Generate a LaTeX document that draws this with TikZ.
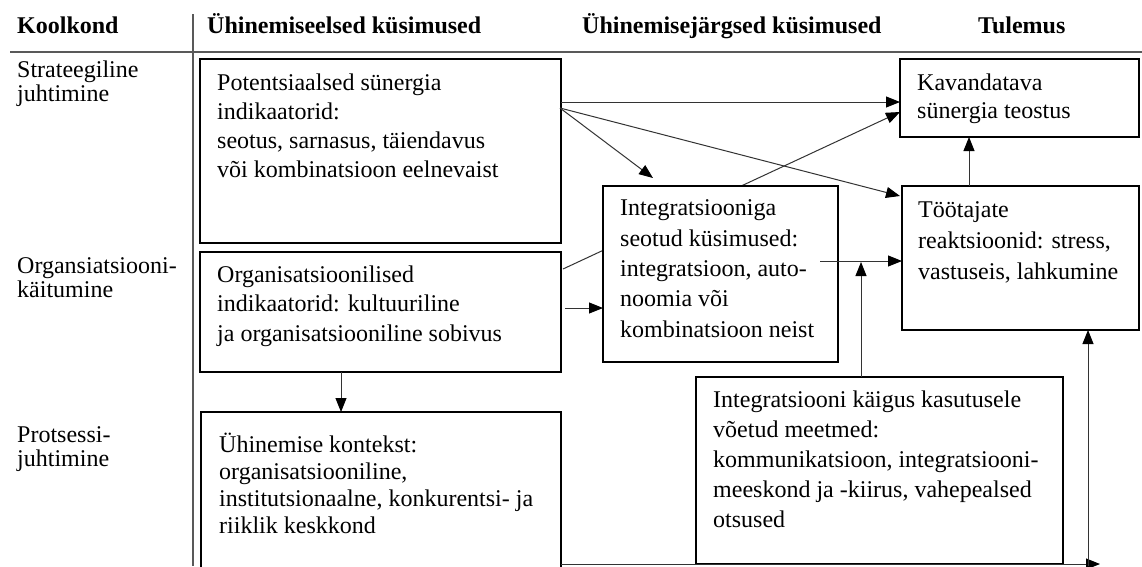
\documentclass[tikz,border=0pt]{standalone}
\usepackage{fontspec}
\setmainfont{Liberation Serif}
\usetikzlibrary{arrows.meta,calc}
\pgfdeclarelayer{bg}
\pgfsetlayers{bg,main}
\begin{document}
\begin{tikzpicture}[x=1pt,y=-1pt,
  box/.style={draw=black,line width=2pt,fill=white,anchor=north west,inner sep=0pt,outer sep=0pt},
  txt/.style={anchor=base west,inner sep=0pt,align=left,font=\fontsize{24}{#1}\selectfont},
  txt/.default=29,
  hdr/.style={anchor=base west,inner sep=0pt,font=\fontsize{24}{29}\selectfont\bfseries},
  lbl/.style={anchor=base west,inner sep=0pt,align=left,font=\fontsize{24}{24}\selectfont},
  conn/.style={draw=black!80,line width=1pt},
  arr/.style={conn,-{Triangle[length=14pt,width=11pt,fill=black,color=black]}},
  rule/.style={draw=black!65,line width=1.2pt}]
\useasboundingbox (0,0) rectangle (1142,566);
\begin{pgfonlayer}{bg}
\fill[white] (0,0) rectangle (1142,566);
\end{pgfonlayer}

% table rules
\draw[rule] (10,52) -- (1142,52);
\draw[rule] (193,14) -- (193,566);

% headers
\node[hdr] (h1) at (17,33) {Koolkond};
\node[hdr] (h2) at (207,33) {Ühinemiseelsed küsimused};
\node[hdr] (h3) at (582,33) {Ühinemisejärgsed küsimused};
\node[hdr] (h4) at (978,33) {Tulemus};

% row labels (anchored at the baseline of their last line)
\node[lbl] (r1) at (17,101) {Strateegiline\\juhtimine};
\node[lbl] (r2) at (17,297) {Organsiatsiooni-\\käitumine};
\node[lbl] (r3) at (17,466) {Protsessi-\\juhtimine};

% boxes
\node[box,minimum width=361pt,minimum height=184pt] (A) at (200,59) {};
\node[box,minimum width=361pt,minimum height=120pt] (B) at (200,252) {};
\node[box,minimum width=360pt,minimum height=175pt] (C) at (201,412) {};
\node[box,minimum width=235pt,minimum height=176pt] (D) at (603,186) {};
\node[box,minimum width=239pt,minimum height=78pt] (E) at (900,59) {};
\node[box,minimum width=237pt,minimum height=144pt] (F) at (902,186) {};
\node[box,minimum width=367pt,minimum height=187pt] (G) at (696,377) {};

% box texts (anchored at the baseline of their last line)
\node[txt=29] (tA) at (217,177) {Potentsiaalsed sünergia\\indikaatorid:\\seotus, sarnasus, täiendavus\\või kombinatsioon eelnevaist};
\node[txt=29.5] (tB) at (217,341) {Organisatsioonilised\\indikaatorid: kultuuriline\\ja organisatsiooniline sobivus};
\node[txt=27] (tC) at (219,533) {Ühinemise kontekst:\\organisatsiooniline,\\institutsionaalne, konkurentsi- ja\\riiklik keskkond};
\node[txt=30.3] (tD) at (620,337) {Integratsiooniga\\seotud küsimused:\\integratsioon, auto-\\noomia või\\kombinatsioon neist};
\node[txt=28] (tE) at (917,118) {Kavandatava\\sünergia teostus};
\node[txt=31] (tF) at (918,279) {Töötajate\\reaktsioonid: stress,\\vastuseis, lahkumine};
\node[txt=30] (tG) at (713,527) {Integratsiooni käigus kasutusele\\võetud meetmed:\\kommunikatsioon, integratsiooni-\\meeskond ja -kiirus, vahepealsed\\otsused};

% connectors
\coordinate (a1) at ($(A.north east)+(0,43)$);
\coordinate (a2) at ($(A.north east)+(-1,49)$);
\draw[arr] (a1) -- (a1 -| E.west);
\draw[arr] (a2) -- ($(D.north west)+(50,-8)$);
\draw[arr] (a2) -- ($(F.north west)+(-2,10)$);
\begin{pgfonlayer}{bg}
\draw[arr] ($(B.north east)+(2,17)$) -- ($(E.north west)+(0,53)$);
\end{pgfonlayer}
\coordinate (b1) at ($(B.north east)+(4,56)$);
\draw[arr] (b1) -- (b1 -| D.west);
\coordinate (d1) at ($(D.north east)+(-18,75)$);
\draw[arr] (d1) -- (d1 -| F.west);
\coordinate (g1) at ($(G.north west)+(165,-115)$);
\draw[arr] ($(G.north west)+(165,0)$) -- (g1);
\draw[arr] ($(F.north west)+(67,0)$) -- ($(E.south west)+(69,0)$);
\draw[arr] ($(B.south west)+(141,0)$) -- ($(C.north west)+(140,0)$);
\coordinate (c1) at (C.east |- G.south);
\coordinate (c2) at (1100,564);
\draw[arr] (c1) -- (c2);
\coordinate (f1) at (1088,566);
\draw[arr] (f1) -- ($(F.south east)+(-51,0)$);
\end{tikzpicture}
\end{document}
